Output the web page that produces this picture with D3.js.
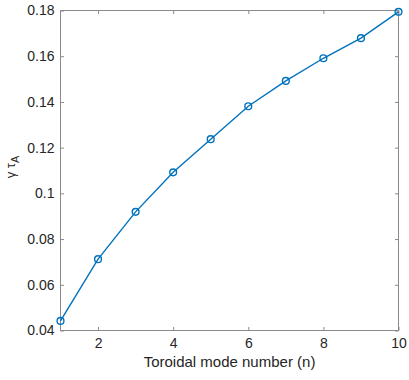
<!DOCTYPE html>
<html>
<head>
<meta charset="utf-8">
<script src="https://cdn.jsdelivr.net/npm/d3@7"></script>
<style>
  body { margin: 0; background: #fff; }
  svg text { font-family: "Liberation Sans", Arial, sans-serif; fill: #262626; }
</style>
</head>
<body>
<svg id="chart" width="409" height="380"></svg>
<script>
// growth rate vs toroidal mode number
var modeN  = [1, 2, 3, 4, 5, 6, 7, 8, 9, 10]
var growth = [0.0442, 0.0712, 0.0919, 0.1092, 0.1237, 0.1381, 0.1492, 0.1591, 0.1679, 0.1794]
var xTicks = [2, 4, 6, 8, 10]
var yTicks = [0.04, 0.06, 0.08, 0.1, 0.12, 0.14, 0.16, 0.18]

var W = 409, H = 380
var m = { left: 60.5, right: 10.5, top: 10.5, bottom: 49.5 }

var svg = d3.select('#chart')

var x = d3.scaleLinear().domain([1, 10]).range([m.left, W - m.right])
var y = d3.scaleLinear().domain([0.04, 0.18]).range([H - m.bottom, m.top])

var axisColor = '#8a8a8a'
var tickLen = 3.5

function styleAxis(g)
{
    g.select('.domain').remove()
    g.selectAll('.tick line').attr('stroke', axisColor)
    g.selectAll('.tick text')
        .style('font-size', '14px')
        .attr('fill', '#262626')
}

// bottom / left axes with inward ticks
svg.append('g')
    .attr('transform', 'translate(0,' + y.range()[0] + ')')
    .call(d3.axisBottom(x).tickValues(xTicks).tickSize(-tickLen).tickPadding(8).tickFormat(d3.format('d')))
    .call(styleAxis)

svg.append('g')
    .attr('transform', 'translate(' + x.range()[0] + ',0)')
    .call(d3.axisLeft(y).tickValues(yTicks).tickSize(-tickLen).tickPadding(6).tickFormat(d=> String(+d.toFixed(2))))
    .call(styleAxis)

// mirrored ticks on top / right (box on)
svg.append('g')
    .attr('transform', 'translate(0,' + y.range()[1] + ')')
    .call(d3.axisTop(x).tickValues(xTicks).tickSize(-tickLen).tickFormat(''))
    .call(styleAxis)

svg.append('g')
    .attr('transform', 'translate(' + x.range()[1] + ',0)')
    .call(d3.axisRight(y).tickValues(yTicks).tickSize(-tickLen).tickFormat(''))
    .call(styleAxis)

svg.append('rect')
    .attr('x', x.range()[0])
    .attr('y', y.range()[1])
    .attr('width', x.range()[1] - x.range()[0])
    .attr('height', y.range()[0] - y.range()[1])
    .attr('fill', 'none')
    .attr('stroke', axisColor)

// series
var pts = modeN.map((n, i)=> [n, growth[i]])
var blue = '#0072BD'

svg.append('path')
    .datum(pts)
    .attr('fill', 'none')
    .attr('stroke', blue)
    .attr('stroke-width', 1.4)
    .attr('d', d3.line().x(d=> x(d[0])).y(d=> y(d[1])))

svg.selectAll('circle.pt')
    .data(pts)
    .enter().append('circle')
    .attr('class', 'pt')
    .attr('cx', d=> x(d[0]))
    .attr('cy', d=> y(d[1]))
    .attr('r', 3.4)
    .attr('fill', 'none')
    .attr('stroke', blue)
    .attr('stroke-width', 1.4)

// labels
svg.append('text')
    .attr('x', (x.range()[0] + x.range()[1]) / 2)
    .attr('y', 367)
    .attr('text-anchor', 'middle')
    .style('font-size', '15px')
    .text('Toroidal mode number (n)')

var yl = svg.append('text')
    .attr('transform', 'translate(15,167) rotate(-90)')
    .attr('text-anchor', 'middle')
    .style('font-size', '13px')
yl.append('tspan').text('γ τ')
yl.append('tspan').attr('dy', 4).style('font-size', '11px').text('A')
</script>
</body>
</html>
